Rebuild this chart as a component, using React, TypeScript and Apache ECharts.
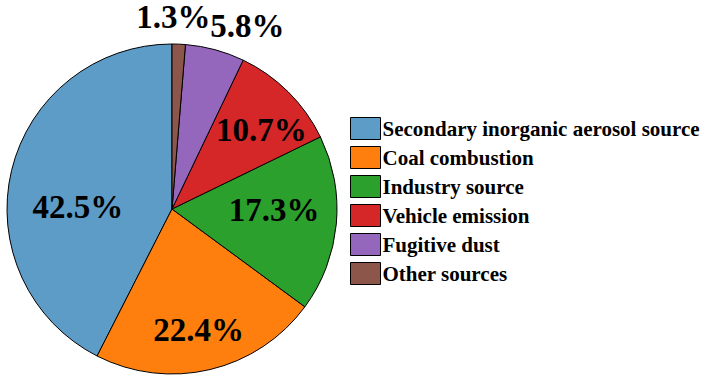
import React, { useEffect, useRef } from "react";
import * as echarts from "echarts";

const categories = [
  "Secondary inorganic aerosol source",
  "Coal combustion",
  "Industry source",
  "Vehicle emission",
  "Fugitive dust",
  "Other sources",
];
const shares = [42.5, 22.4, 17.3, 10.7, 5.8, 1.3];
const colors = ["#5e9cc8", "#ff7f0e", "#2ca02c", "#d62728", "#9467bd", "#8c564b"];
// label nudges from the default inside position (style only)
const labelOffsets: [number, number][] = [
  [-11, 18],
  [7, 38],
  [17, -7],
  [29, -18],
  [53, -100],
  [-2, -107],
];

const FONT = "'Liberation Serif', 'Times New Roman', serif";

export default function App() {
  const ref = useRef<HTMLDivElement>(null);
  useEffect(() => {
    if (!ref.current) return;
    const chart = echarts.init(ref.current, undefined, { renderer: "svg" });
    chart.setOption({
      animation: false,
      backgroundColor: "#ffffff",
      legend: {
        orient: "vertical",
        left: 350,
        top: 117,
        padding: 0,
        itemWidth: 30,
        itemHeight: 22,
        itemGap: 6,
        icon: "rect",
        data: categories,
        itemStyle: { borderColor: "#000", borderWidth: 1 },
        textStyle: {
          fontFamily: FONT,
          fontWeight: "bold",
          fontSize: 21,
          lineHeight: 20,
          height: 20,
          color: "#000",
          padding: [0, 0, 0, -3],
        },
      },
      series: [
        {
          type: "pie",
          center: [172, 209],
          radius: [0, 165],
          startAngle: 90,
          clockwise: false,
          silent: true,
          itemStyle: { borderColor: "#000", borderWidth: 1 },
          label: {
            show: true,
            position: "inside",
            formatter: (p: any) => `${shares[p.dataIndex].toFixed(1)}%`,
            fontFamily: FONT,
            fontWeight: "bold",
            fontSize: 33,
            color: "#000",
          },
          labelLine: { show: false },
          labelLayout: (p: any) => ({
            dx: labelOffsets[p.dataIndex][0],
            dy: labelOffsets[p.dataIndex][1],
          }),
          data: categories.map((name, i) => ({
            name,
            value: shares[i],
            itemStyle: { color: colors[i] },
          })),
        },
      ],
    });
    return () => chart.dispose();
  }, []);
  return (
    <div
      ref={ref}
      style={{ position: "fixed", left: 0, top: 0, width: 707, height: 380 }}
    />
  );
}
